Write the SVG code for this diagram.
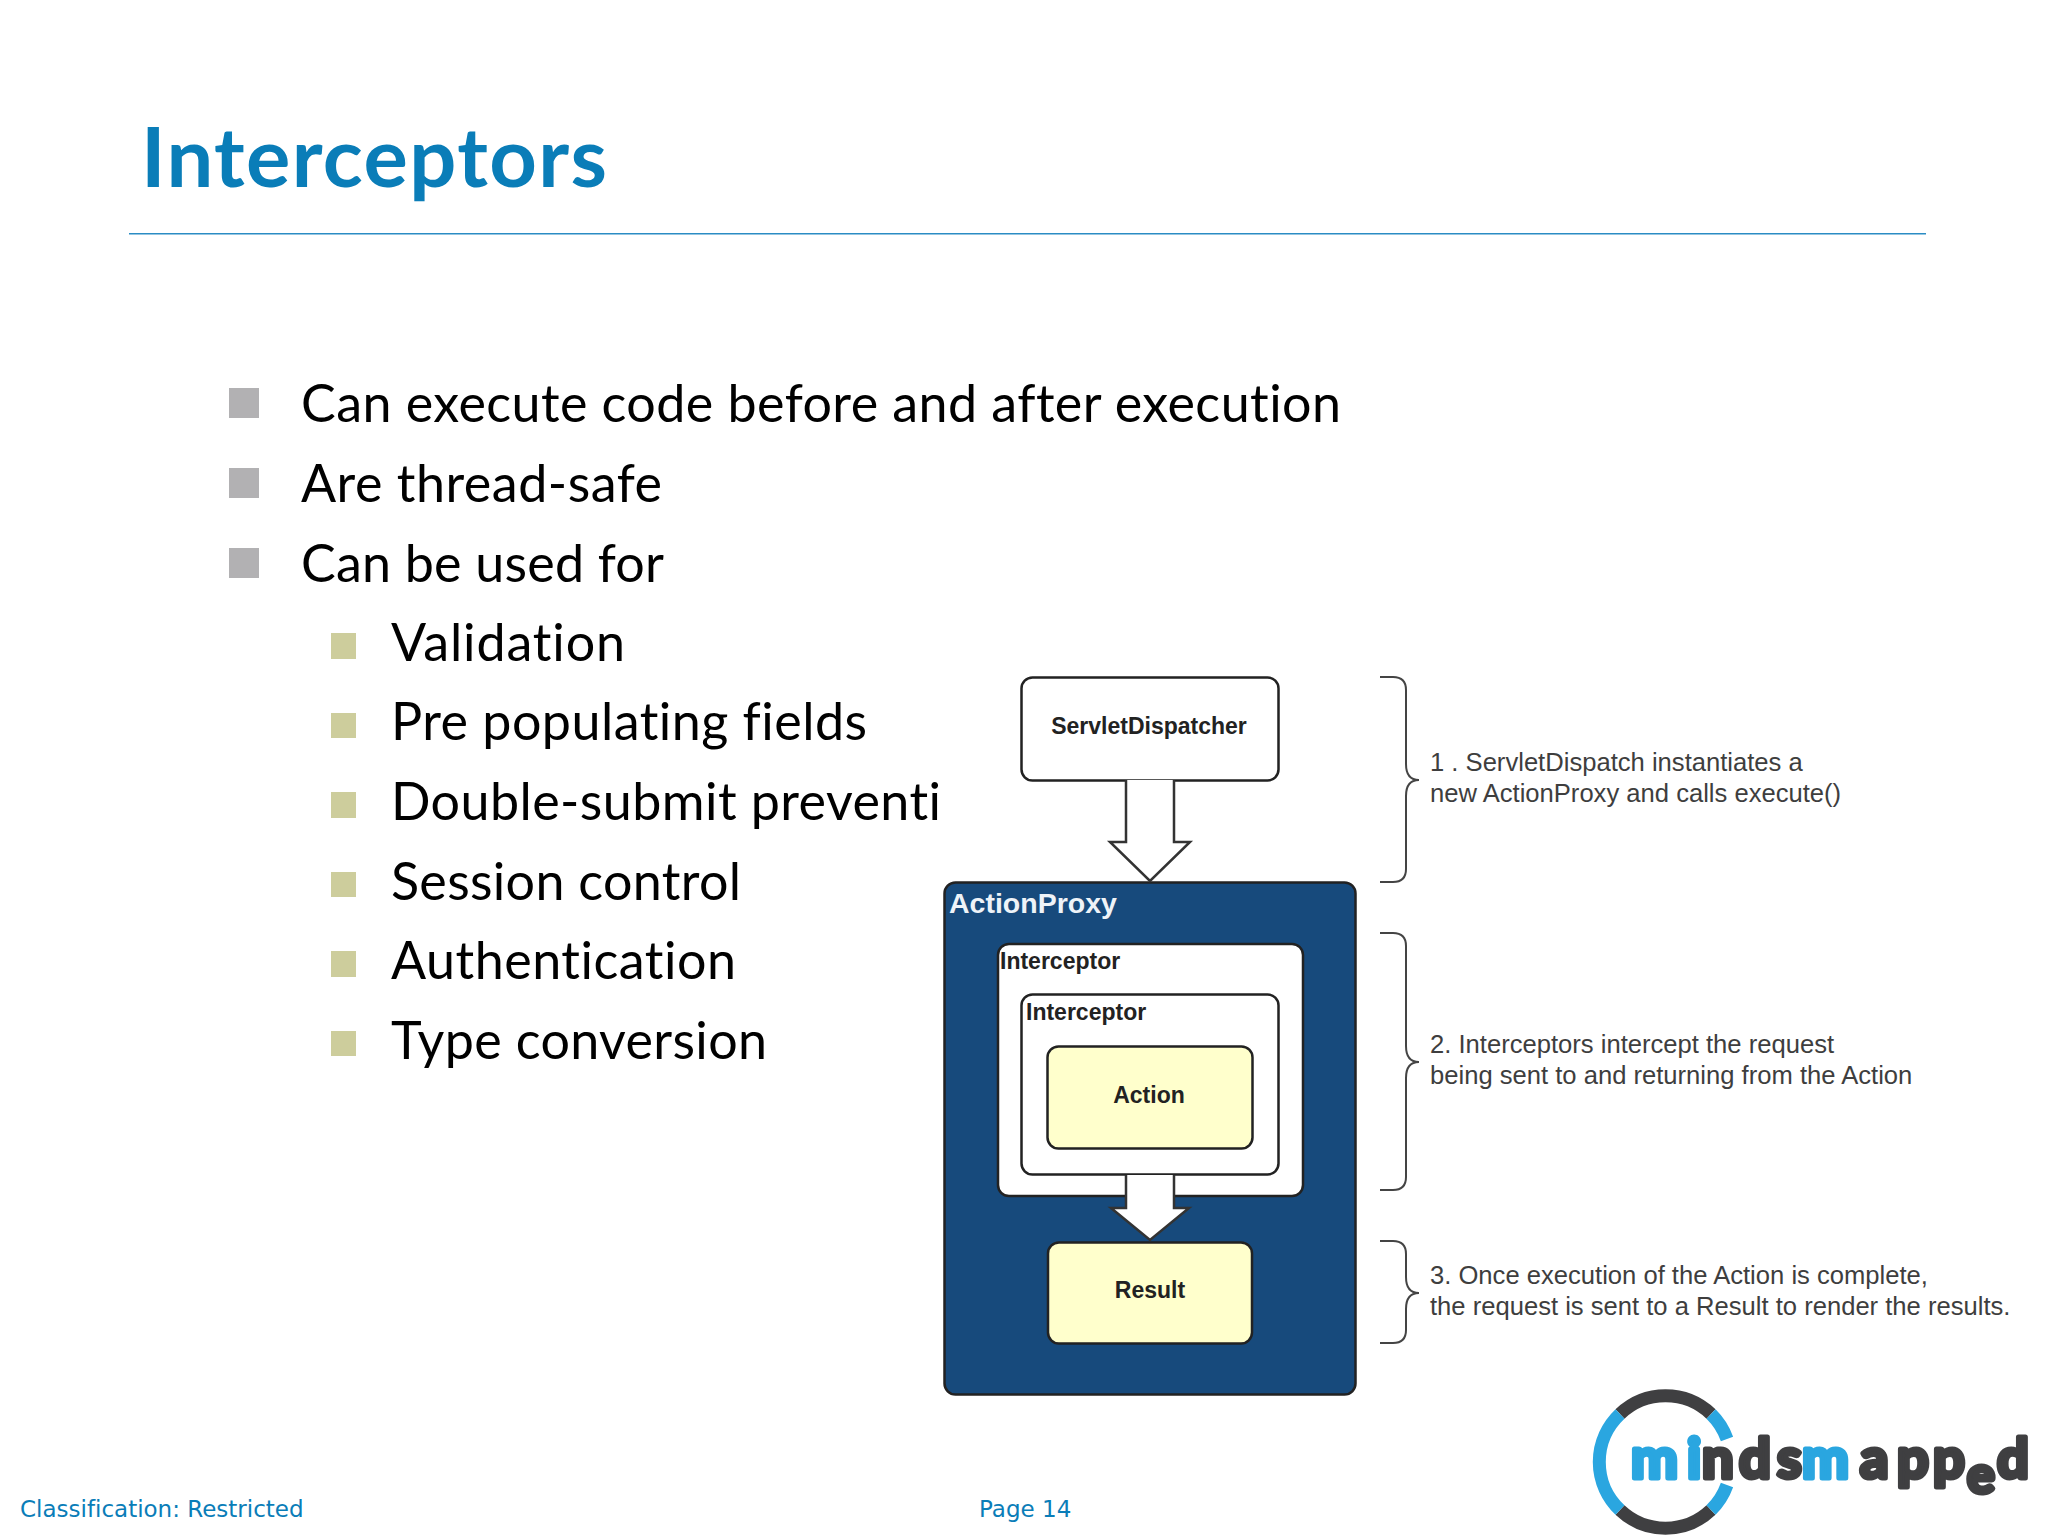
<svg xmlns="http://www.w3.org/2000/svg" width="2048" height="1536" viewBox="0 0 2048 1536">
<style>
.title{font:700 83px Lato,"Open Sans",sans-serif;fill:#0a7db8;font-variant-ligatures:none}
.b{font:400 52px Lato,"Open Sans",sans-serif;fill:#000;font-variant-ligatures:none}
.foot{font:400 23px "DejaVu Sans",sans-serif;fill:#0a7db8;font-variant-ligatures:none}
.box{stroke:#222;stroke-width:2.5}
.lab{font:700 23px "Liberation Sans",Arial,sans-serif;fill:#222}
.note{font:400 25.6px "Liberation Sans",Arial,sans-serif;fill:#3e3e3e}
.brace{fill:none;stroke:#444;stroke-width:2}
.arrow{stroke:#333;stroke-width:2.5;fill:#fff}
.logo{font:700 56px Lato,sans-serif;stroke-width:5;stroke-linejoin:round}
.dark{fill:#3f3f41;stroke:#3f3f41}
.blue{fill:#2aa6e0;stroke:#2aa6e0}
.ring{fill:none;stroke-width:13}
</style>
<rect width="2048" height="1536" fill="#fff"/>
<g id="header">
<text class="title" x="141" y="187" textLength="466">Interceptors</text>
<rect x="129" y="233" width="1797" height="1.5" fill="#2b8cc4"/>
</g>
<g id="bullets">
<g fill="#b2b1b3"><rect x="229" y="388" width="30" height="30"/><rect x="229" y="468" width="30" height="30"/><rect x="229" y="548" width="30" height="30"/></g>
<g fill="#cdcd9c"><rect x="331" y="633" width="25" height="26"/><rect x="331" y="713" width="25" height="25"/><rect x="331" y="792" width="25" height="26"/><rect x="331" y="872" width="25" height="25"/><rect x="331" y="951" width="25" height="26"/><rect x="331" y="1031" width="25" height="25"/></g>
<text class="b" x="301" y="422" textLength="1040">Can execute code before and after execution</text>
<text class="b" x="301" y="502" textLength="361">Are thread-safe</text>
<text class="b" x="301" y="582" textLength="363">Can be used for</text>
<text class="b" x="391" y="661" textLength="234">Validation</text>
<text class="b" x="391" y="740" textLength="476">Pre populating fields</text>
<text class="b" x="391" y="820" textLength="550">Double-submit preventi</text>
<text class="b" x="391" y="900" textLength="350">Session control</text>
<text class="b" x="391" y="979" textLength="345">Authentication</text>
<text class="b" x="391" y="1059" textLength="376">Type conversion</text>
</g>
<g id="ActionProxy"><rect class="box" x="944.500" y="882.500" width="411" height="512" rx="11" fill="#174a7c"/>
<text x="949" y="913" style="font:700 28.500px 'Liberation Sans',Arial,sans-serif;fill:#eef3f8">ActionProxy</text></g>
<g id="Interceptor-outer"><rect class="box" x="998" y="944" width="305" height="252" rx="11" fill="#fff"/>
<text class="lab" x="1000" y="969">Interceptor</text></g>
<g id="Interceptor-inner"><rect class="box" x="1021.500" y="994.500" width="257" height="180" rx="11" fill="#fff"/>
<text class="lab" x="1026" y="1020">Interceptor</text></g>
<g id="Action"><rect class="box" x="1047.500" y="1046.500" width="205" height="102" rx="11" fill="#ffffcc"/>
<text class="lab" x="1149" y="1103" text-anchor="middle">Action</text></g>
<g id="Result"><rect class="box" x="1048" y="1242.500" width="204" height="101" rx="11" fill="#ffffcc"/>
<text class="lab" x="1150" y="1298" text-anchor="middle">Result</text></g>
<g id="ServletDispatcher"><rect class="box" x="1021.500" y="677.500" width="257" height="103" rx="11" fill="#fff"/>
<text class="lab" x="1149" y="734" text-anchor="middle">ServletDispatcher</text></g>
<g id="connectors">
<path class="arrow" d="M1126 780V842H1110L1150 881L1190 842H1174V780"/>
<path d="M1126 1175V1208H1111L1150 1240L1189 1208H1174V1175Z" fill="#fff"/>
<path class="arrow" style="fill:none" d="M1126 1175V1208H1111L1150 1240L1189 1208H1174V1175"/>
<path class="brace" d="M1380 677H1393Q1406 677 1406 690V764Q1406 780 1419 780Q1406 780 1406 796V869Q1406 882 1393 882H1380"/>
<path class="brace" d="M1380 933H1393Q1406 933 1406 946V1046Q1406 1062 1419 1062Q1406 1062 1406 1078V1177Q1406 1190 1393 1190H1380"/>
<path class="brace" d="M1380 1241H1393Q1406 1241 1406 1254V1277Q1406 1293 1419 1293Q1406 1293 1406 1309V1330Q1406 1343 1393 1343H1380"/>
</g>
<g id="notes">
<text class="note" x="1430" y="771">1 . ServletDispatch instantiates a</text>
<text class="note" x="1430" y="802">new ActionProxy and calls execute()</text>
<text class="note" x="1430" y="1053">2. Interceptors intercept the request</text>
<text class="note" x="1430" y="1084">being sent to and returning from the Action</text>
<text class="note" x="1430" y="1284">3. Once execution of the Action is complete,</text>
<text class="note" x="1430" y="1315">the request is sent to a Result to render the results.</text>
</g>
<g id="footer">
<text class="foot" x="20" y="1517">Classification: Restricted</text>
<text class="foot" x="979" y="1517">Page 14</text>
</g>
<g id="logo">
<path class="ring" stroke="#3f3f41" d="M1620 1414A66 66 0 0 1 1711 1414M1620 1510A66 66 0 0 0 1711 1510"/>
<path class="ring" stroke="#2aa6e0" d="M1620 1414A66 66 0 0 0 1620 1510M1711 1414A66 66 0 0 1 1727 1439M1711 1510A66 66 0 0 0 1727 1485"/>
<text class="logo blue" x="1631 1687" y="1478">mi</text>
<text class="logo dark" x="1702 1739 1777" y="1478">nds</text>
<text class="logo blue" x="1802" y="1478">m</text>
<text class="logo dark" x="1860 1897 1933" y="1478">app</text>
<text class="logo dark" x="1967" y="1493" style="font-size:52px">e</text>
<text class="logo dark" x="1997" y="1478">d</text>
</g>
</svg>
